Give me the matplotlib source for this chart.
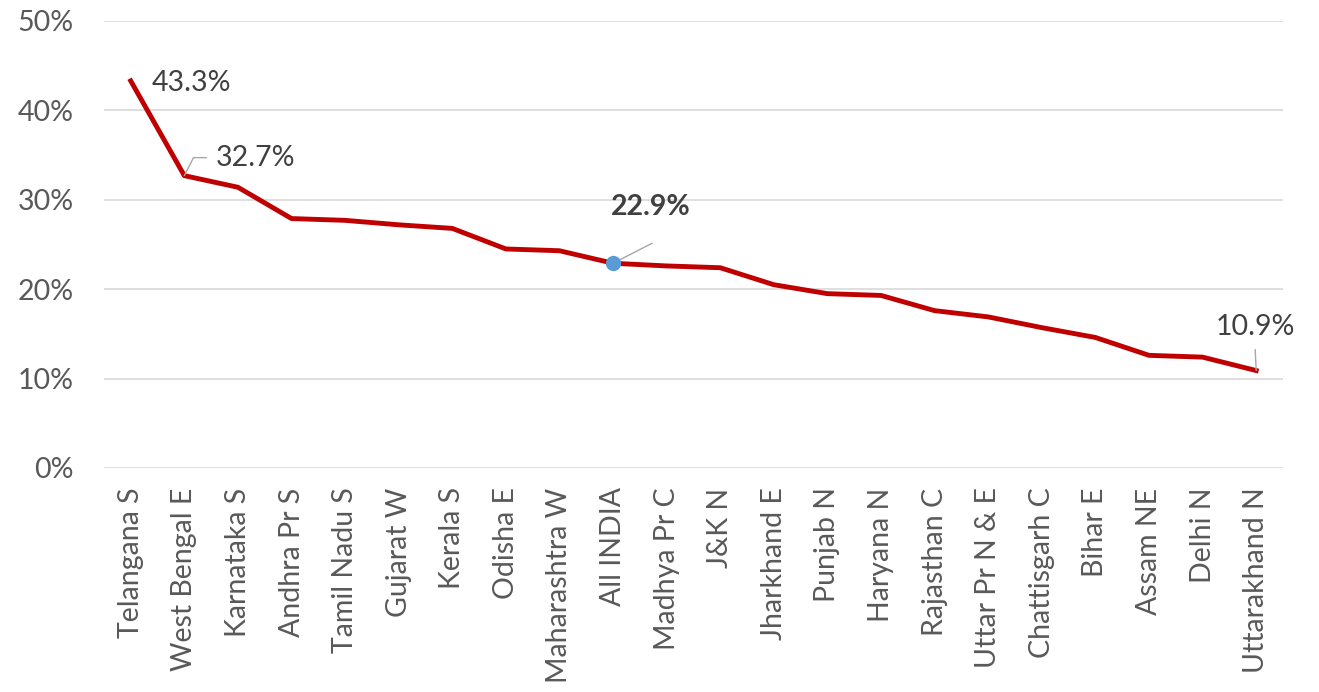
import matplotlib.pyplot as plt
from matplotlib.ticker import PercentFormatter

plt.rcParams['font.family'] = ['Lato', 'DejaVu Sans']

states = ["Telangana S", "West Bengal E", "Karnataka S", "Andhra Pr S", "Tamil Nadu S",
          "Gujarat W", "Kerala S", "Odisha E", "Maharashtra W", "All INDIA",
          "Madhya Pr C", "J&K N", "Jharkhand E", "Punjab N", "Haryana N",
          "Rajasthan C", "Uttar Pr N & E", "Chattisgarh C", "Bihar E", "Assam NE",
          "Delhi N", "Uttarakhand N"]
share = [43.3, 32.7, 31.4, 27.9, 27.7, 27.2, 26.8, 24.5, 24.3, 22.9,
         22.6, 22.4, 20.5, 19.5, 19.3, 17.6, 16.9, 15.7, 14.6, 12.6,
         12.4, 10.9]

red = "#C00000"
grey = "#A6A6A6"
txt = "#404040"
fs = 20.5

fig = plt.figure(figsize=(13.19, 6.92), dpi=100)
ax = fig.add_axes([0.0788, 0.3237, 0.8939, 0.646])

x = list(range(len(states)))
ax.plot(x, share, color=red, lw=3.5, solid_joinstyle='round', zorder=3)

# national average marker
i_all = states.index("All INDIA")
ax.plot(i_all, share[i_all], 'o', color="#5B9BD5", ms=10, zorder=4)

ax.set_xlim(-0.5, len(states) - 0.5)
ax.set_ylim(0, 50)
ax.set_yticks(range(0, 51, 10))
ax.yaxis.set_major_formatter(PercentFormatter(decimals=0))
ax.set_xticks(x)
ax.set_xticklabels(states, rotation=90)
ax.grid(axis='y', color="#D9D9D9", lw=1.2)
ax.set_axisbelow(True)
for s in ax.spines.values():
    s.set_visible(False)
ax.tick_params(axis='y', length=0, pad=22, labelsize=fs, labelcolor="#595959")
ax.tick_params(axis='x', length=0, pad=14, labelsize=fs, labelcolor="#595959")

# value labels
ax.annotate(f"{share[0]}%", (0, share[0]), xytext=(21, -2), textcoords='offset pixels',
            ha='left', va='center', fontsize=fs, color=txt)

ax.annotate(f"{share[1]}%", (1, share[1]), xytext=(31, 18), textcoords='offset pixels',
            ha='left', va='center', fontsize=fs, color=txt)
ax.annotate("", (1, share[1]), xytext=(22, 18), textcoords='offset pixels',
            arrowprops=dict(arrowstyle='-', color=grey, lw=1, shrinkA=0, shrinkB=0,
                            connectionstyle="angle,angleA=0,angleB=63,rad=0"))

ax.annotate(f"{share[i_all]}%", (i_all, share[i_all]), xytext=(38, 56), textcoords='offset pixels',
            ha='center', va='center', fontsize=fs, fontweight='bold', color=txt)
ax.annotate("", (i_all, share[i_all]), xytext=(39, 20), textcoords='offset pixels',
            arrowprops=dict(arrowstyle='-', color=grey, lw=1, shrinkA=0, shrinkB=0))

last = len(states) - 1
ax.annotate(f"{share[last]}%", (last, share[last]), xytext=(-1, 44), textcoords='offset pixels',
            ha='center', va='center', fontsize=fs, color=txt)
ax.annotate("", (last, share[last]), xytext=(-1, 21), textcoords='offset pixels',
            arrowprops=dict(arrowstyle='-', color=grey, lw=1, shrinkA=0, shrinkB=0))

fig.savefig("out.png", dpi=100)
